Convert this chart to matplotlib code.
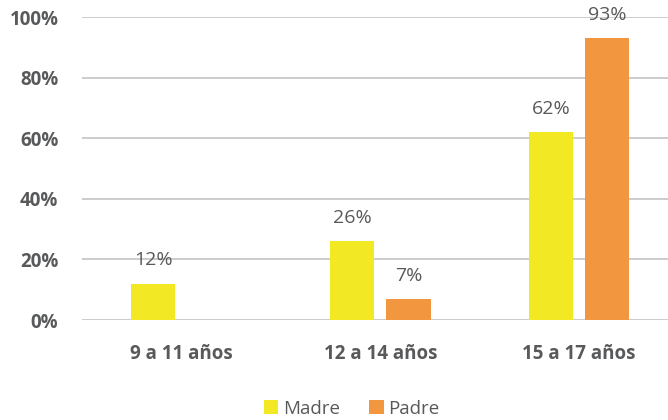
import numpy as np
import matplotlib.pyplot as plt

plt.rcParams['font.family'] = ['Open Sans', 'DejaVu Sans']

categories = ['9 a 11 años', '12 a 14 años', '15 a 17 años']
madre = [12, 26, 62]
padre = [0, 7, 93]
madre_labels = ['12%', '26%', '62%']
padre_labels = ['', '7%', '93%']
yticks = [0, 20, 40, 60, 80, 100]

text_grey = '#58595b'
yellow = '#f2e824'
orange = '#f39640'

fig = plt.figure(figsize=(6.68, 4.2), dpi=100)
ax = fig.add_axes([0.1228, 0.238, 0.893, 0.7215])

x = np.arange(len(categories))
w = 0.222
off = 0.142
b1 = ax.bar(x - off, madre, w, color=yellow, label='Madre', zorder=2)
b2 = ax.bar(x + off, padre, w, color=orange, label='Padre', zorder=2)

for bars, labs in ((b1, madre_labels), (b2, padre_labels)):
    for rect, lab in zip(bars, labs):
        if lab:
            ax.text(rect.get_x() + rect.get_width() / 2, rect.get_height() + 6, lab,
                    ha='center', va='baseline', fontsize=14, color=text_grey, clip_on=False)

ax.set_xlim(-0.5, 2.5)
ax.set_ylim(0, 100)
ax.set_yticks(yticks)
ax.set_yticklabels([f'{v}%' for v in yticks], fontsize=13.5, fontweight='bold', color=text_grey)
ax.set_xticks(x)
ax.set_xticklabels(categories, fontsize=13.5, fontweight='bold', color=text_grey)
ax.tick_params(axis='both', length=0)
ax.tick_params(axis='y', pad=17)
ax.tick_params(axis='x', pad=17)
ax.grid(axis='y', color='#bfbfbf', linewidth=1.1, zorder=0)
for s in ax.spines.values():
    s.set_visible(False)

leg = fig.legend(loc='lower center', bbox_to_anchor=(0.527, -0.035), ncol=2, frameon=False,
                 fontsize=13.5, handlelength=0.75, handleheight=0.75, handletextpad=0.27,
                 columnspacing=1.55)
for t in leg.get_texts():
    t.set_color(text_grey)

fig.savefig('out.png', dpi=100)
